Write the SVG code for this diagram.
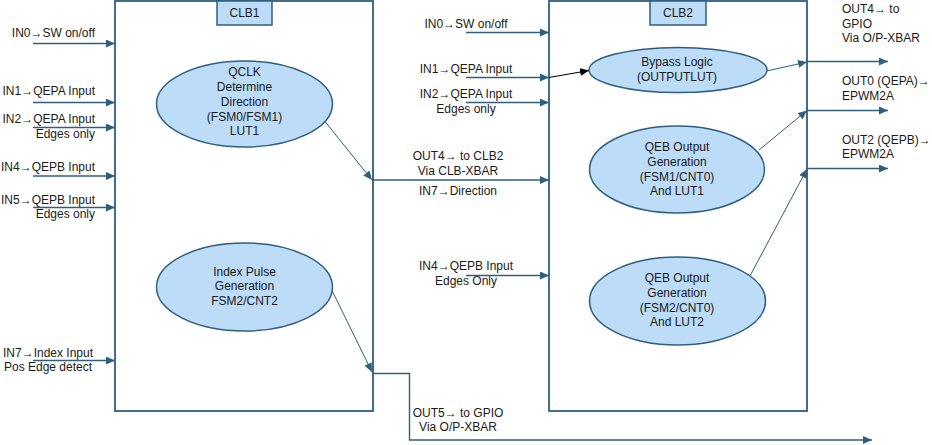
<svg xmlns="http://www.w3.org/2000/svg" width="932" height="445" viewBox="0 0 932 445">
<style>
text{font-family:"Liberation Sans",Arial,sans-serif;font-size:12px;fill:#1a1a1a}
.m{text-anchor:middle}.e{text-anchor:end}
.box{fill:#ffffff;stroke:#2f5f7c;stroke-width:1.8}
.lab{fill:#bcdcf8;stroke:#2f5f7c;stroke-width:1.5}
.ell{fill:#bcdcf8;stroke:#2f5f7c;stroke-width:1.5}
.c{fill:none;stroke:#2f5f7c;stroke-width:1.4}
.d{fill:none;stroke:#2f5f7c;stroke-width:1}
.k{fill:none;stroke:#000;stroke-width:1.2}
</style>
<defs>
<marker id="a" markerUnits="userSpaceOnUse" markerWidth="10" markerHeight="8" refX="9" refY="4" orient="auto"><path d="M0,0 L9,4 L0,8 z" fill="#2f5f7c"/></marker>
<marker id="b" markerUnits="userSpaceOnUse" markerWidth="10" markerHeight="8" refX="9" refY="4" orient="auto"><path d="M0,0 L9,4 L0,8 z" fill="#000"/></marker>
</defs>
<g id="clb1">
<rect class="box" x="115" y="1" width="258" height="410"/>
<rect class="lab" x="217" y="1" width="55" height="24"/>
<text class="m" x="244.5" y="17">CLB1</text>
</g>
<g id="clb2">
<rect class="box" x="549" y="1" width="258" height="410"/>
<rect class="lab" x="650" y="1" width="56" height="24"/>
<text class="m" x="678" y="17">CLB2</text>
</g>
<g id="qclk">
<ellipse class="ell" cx="244.5" cy="104" rx="88" ry="43"/>
<text class="m" x="244.5" y="76">QCLK</text>
<text class="m" x="244.5" y="91">Determine</text>
<text class="m" x="244.5" y="105.5">Direction</text>
<text class="m" x="244.5" y="120.5">(FSM0/FSM1)</text>
<text class="m" x="244.5" y="134.5">LUT1</text>
</g>
<g id="index">
<ellipse class="ell" cx="244.5" cy="287" rx="88" ry="44"/>
<text class="m" x="244.5" y="276">Index Pulse</text>
<text class="m" x="244.5" y="290">Generation</text>
<text class="m" x="244.5" y="304.5">FSM2/CNT2</text>
</g>
<g id="bypass">
<ellipse class="ell" cx="678" cy="70" rx="89" ry="22.5"/>
<text class="m" x="677" y="66">Bypass Logic</text>
<text class="m" x="677" y="80.5">(OUTPUTLUT)</text>
</g>
<g id="qeb1">
<ellipse class="ell" cx="677" cy="169.5" rx="87.5" ry="43.5"/>
<text class="m" x="677" y="151">QEB Output</text>
<text class="m" x="677" y="166">Generation</text>
<text class="m" x="677" y="180.5">(FSM1/CNT0)</text>
<text class="m" x="677" y="195">And LUT1</text>
</g>
<g id="qeb2">
<ellipse class="ell" cx="677.5" cy="301" rx="88" ry="44"/>
<text class="m" x="677" y="282">QEB Output</text>
<text class="m" x="677" y="296.5">Generation</text>
<text class="m" x="677" y="311.5">(FSM2/CNT0)</text>
<text class="m" x="677" y="326">And LUT2</text>
</g>
<g id="labels">
<text class="e" x="95" y="37">IN0→SW on/off</text>
<text class="e" x="95" y="95">IN1→QEPA Input</text>
<text class="e" x="95" y="123">IN2→QEPA Input</text>
<text class="e" x="95" y="138">Edges only</text>
<text class="e" x="95" y="171">IN4→QEPB Input</text>
<text class="e" x="95" y="203.5">IN5→QEPB Input</text>
<text class="e" x="95" y="217.5">Edges only</text>
<text class="m" x="48" y="356.5">IN7→Index Input</text>
<text class="m" x="48" y="370.5">Pos Edge detect</text>
<text class="m" x="466" y="27.5">IN0→SW on/off</text>
<text class="m" x="466" y="72.5">IN1→QEPA Input</text>
<text class="m" x="466" y="98">IN2→QEPA Input</text>
<text class="m" x="466" y="113">Edges only</text>
<text class="m" x="458" y="160">OUT4→ to CLB2</text>
<text class="m" x="458" y="175">Via CLB-XBAR</text>
<text class="m" x="458" y="195">IN7→Direction</text>
<text class="m" x="466" y="270">IN4→QEPB Input</text>
<text class="m" x="466" y="285">Edges Only</text>
<text class="m" x="458" y="417">OUT5→ to GPIO</text>
<text class="m" x="458" y="431">Via O/P-XBAR</text>
<text x="842" y="12.5">OUT4→ to</text>
<text x="842" y="27.5">GPIO</text>
<text x="842" y="42">Via O/P-XBAR</text>
<text x="842" y="85">OUT0 (QEPA)→</text>
<text x="842" y="100">EPWM2A</text>
<text x="842" y="143.5">OUT2 (QEPB)→</text>
<text x="842" y="158">EPWM2A</text>
</g>
<g id="connectors">
<line class="c" x1="33" y1="43.5" x2="115" y2="43.5" marker-end="url(#a)"/>
<line class="c" x1="33" y1="102.5" x2="115" y2="102.5" marker-end="url(#a)"/>
<line class="c" x1="33" y1="127.5" x2="115" y2="127.5" marker-end="url(#a)"/>
<line class="c" x1="33" y1="176" x2="115" y2="176" marker-end="url(#a)"/>
<line class="c" x1="33" y1="207.5" x2="115" y2="207.5" marker-end="url(#a)"/>
<line class="c" x1="33" y1="360.5" x2="115" y2="360.5" marker-end="url(#a)"/>
<line class="d" x1="325" y1="121.5" x2="372" y2="180" marker-end="url(#a)"/>
<line class="c" x1="372" y1="180" x2="549" y2="180" marker-end="url(#a)"/>
<line class="d" x1="332.5" y1="291.5" x2="372" y2="372" marker-end="url(#a)"/>
<polyline class="c" points="372,373.5 409.5,373.5 409.5,440 872,440" marker-end="url(#a)"/>
<line class="c" x1="466" y1="32.5" x2="549" y2="32.5" marker-end="url(#a)"/>
<line class="c" x1="466" y1="77.5" x2="549" y2="77.5" marker-end="url(#a)"/>
<line class="k" x1="549" y1="77.5" x2="589" y2="70.5" marker-end="url(#b)"/>
<line class="c" x1="466" y1="102.5" x2="549" y2="102.5" marker-end="url(#a)"/>
<line class="c" x1="466" y1="275.5" x2="549" y2="275.5" marker-end="url(#a)"/>
<line class="d" x1="766.5" y1="71" x2="807" y2="62" marker-end="url(#a)"/>
<line class="c" x1="807" y1="61.5" x2="888" y2="61.5" marker-end="url(#a)"/>
<line class="d" x1="759" y1="150" x2="807" y2="110.5" marker-end="url(#a)"/>
<line class="c" x1="807" y1="110.5" x2="888" y2="110.5" marker-end="url(#a)"/>
<line class="d" x1="750.5" y1="275" x2="807" y2="169" marker-end="url(#a)"/>
<line class="c" x1="807" y1="168.5" x2="888" y2="168.5" marker-end="url(#a)"/>
</g>
</svg>
